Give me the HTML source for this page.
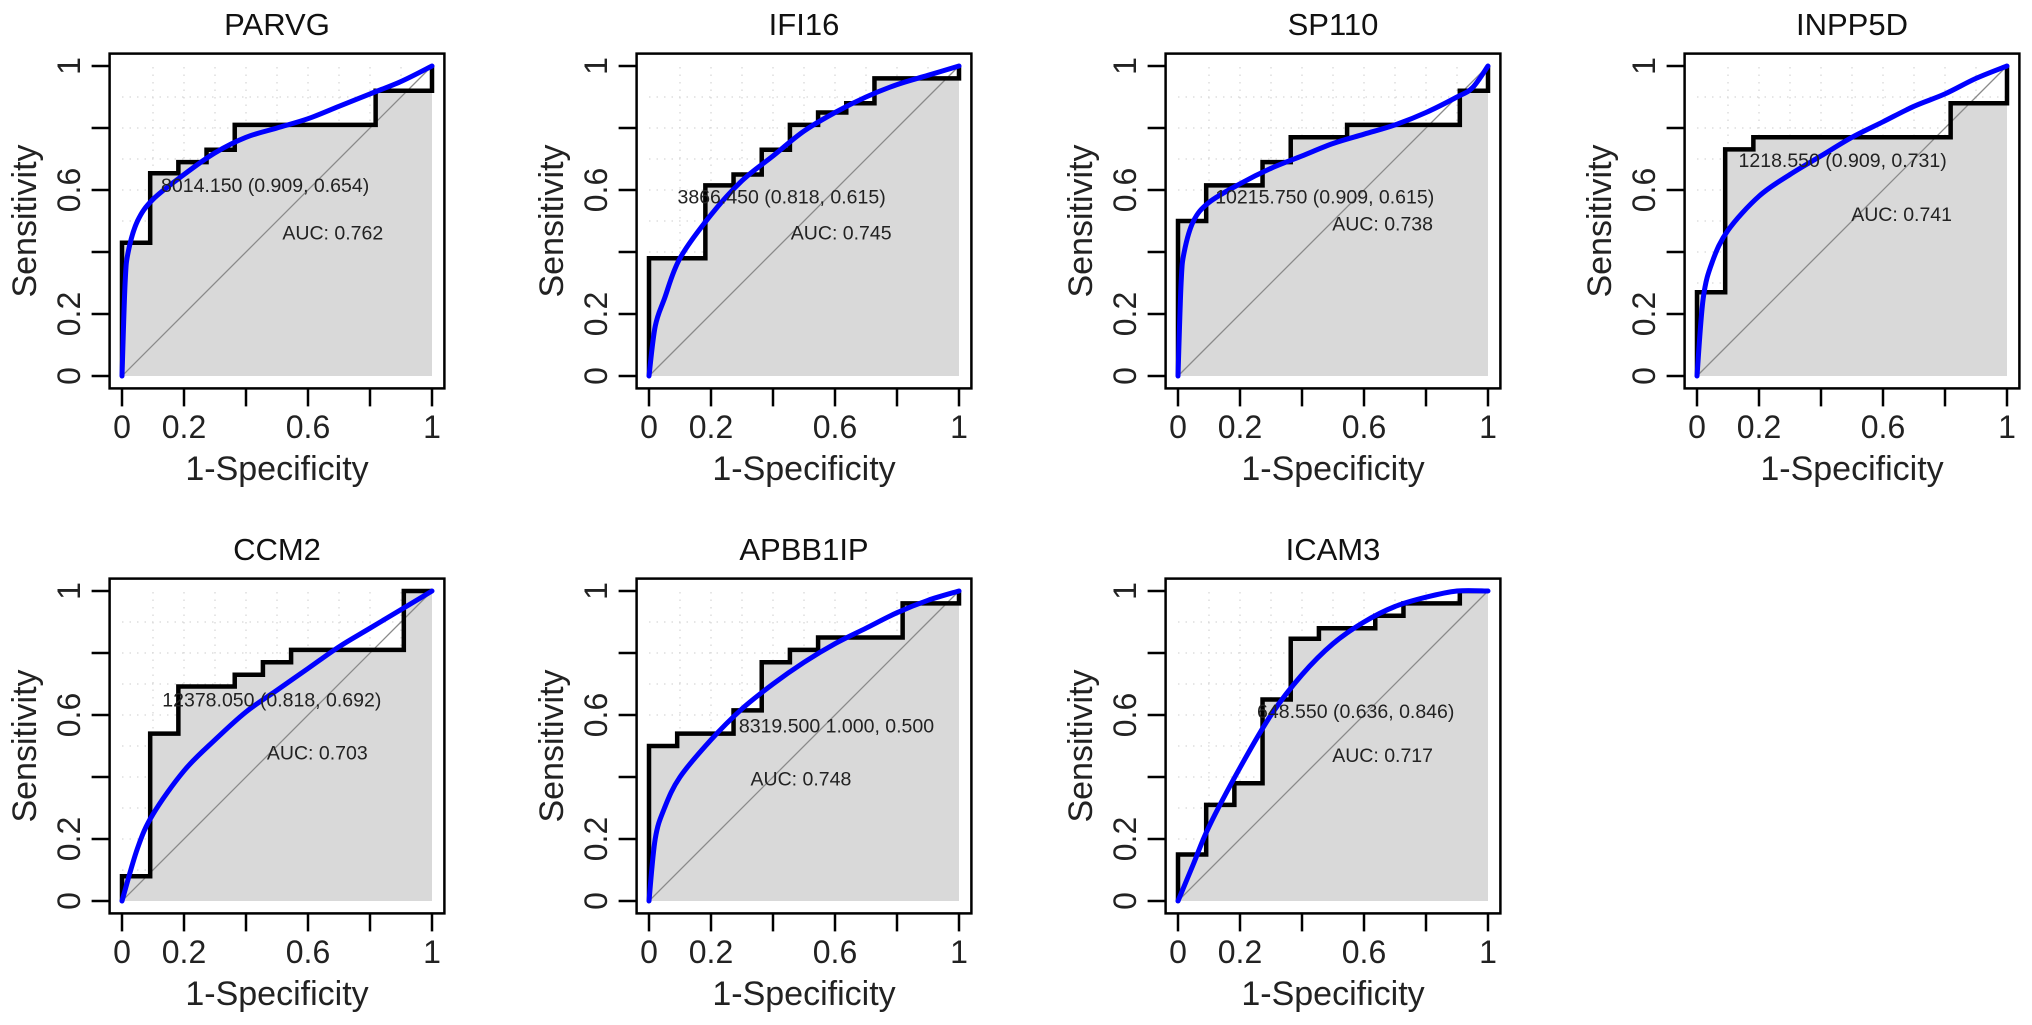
<!DOCTYPE html>
<html><head><meta charset="utf-8"><style>
html,body{margin:0;padding:0;background:#fff;}
svg{display:block;font-family:"Liberation Sans",Arial,sans-serif;}
</style></head><body>
<svg id="chart" width="2032" height="1025" viewBox="0 0 2032 1025" xmlns="http://www.w3.org/2000/svg"></svg>
<script>
// ---- data ----
const genes = ["PARVG","IFI16","SP110","INPP5D","CCM2","APBB1IP","ICAM3"];
const stepFpr = [
  [0,1/11,2/11,3/11,4/11,9/11,1],
  [0,2/11,3/11,4/11,5/11,6/11,7/11,8/11,1],
  [0,1/11,3/11,4/11,6/11,10/11,1],
  [0,1/11,2/11,9/11,1],
  [0,1/11,2/11,4/11,5/11,6/11,10/11],
  [0,1/11,3/11,4/11,5/11,6/11,9/11,1],
  [0,1/11,2/11,3/11,4/11,5/11,7/11,8/11,10/11]
];
const stepTpr = [
  [0.43,0.654,0.69,0.73,0.81,0.92,1],
  [0.38,0.615,0.65,0.73,0.81,0.85,0.88,0.96,1],
  [0.5,0.615,0.69,0.77,0.81,0.92,1],
  [0.27,0.731,0.77,0.88,1],
  [0.08,0.54,0.692,0.73,0.77,0.81,1],
  [0.5,0.54,0.615,0.77,0.81,0.85,0.96,1],
  [0.15,0.31,0.38,0.65,0.846,0.88,0.92,0.96,1]
];
const smoothFpr = [
  [0,0.01,0.02,0.05,0.1,0.2,0.3,0.4,0.5,0.6,0.7,0.8,0.9,1],
  [0,0.02,0.05,0.1,0.2,0.3,0.4,0.5,0.6,0.7,0.8,0.9,1],
  [0,0.01,0.02,0.05,0.1,0.2,0.3,0.4,0.5,0.6,0.7,0.8,0.9,0.95,1],
  [0,0.02,0.05,0.1,0.2,0.3,0.4,0.5,0.6,0.7,0.8,0.9,1],
  [0,0.05,0.1,0.2,0.3,0.4,0.5,0.6,0.7,0.8,0.9,1],
  [0,0.02,0.05,0.1,0.2,0.3,0.4,0.5,0.6,0.7,0.8,0.9,1],
  [0,0.05,0.1,0.2,0.3,0.4,0.5,0.6,0.7,0.8,0.9,1]
];
const smoothTpr = [
  [0,0.3,0.4,0.5,0.57,0.65,0.72,0.77,0.8,0.83,0.87,0.91,0.95,1],
  [0,0.16,0.25,0.38,0.52,0.63,0.71,0.79,0.85,0.9,0.94,0.97,1],
  [0,0.3,0.4,0.5,0.56,0.62,0.67,0.71,0.75,0.78,0.81,0.85,0.9,0.93,1],
  [0,0.25,0.37,0.47,0.58,0.65,0.71,0.77,0.82,0.87,0.91,0.96,1],
  [0,0.17,0.28,0.42,0.52,0.61,0.68,0.75,0.82,0.88,0.94,1],
  [0,0.2,0.3,0.4,0.52,0.62,0.7,0.77,0.83,0.88,0.93,0.97,1],
  [0,0.12,0.24,0.43,0.6,0.73,0.83,0.9,0.95,0.98,1,1]
];
const thrLabels = ["8014.150 (0.909, 0.654)","3866.450 (0.818, 0.615)","10215.750 (0.909, 0.615)","1218.550 (0.909, 0.731)","12378.050 (0.818, 0.692)","8319.500 1.000, 0.500","648.550 (0.636, 0.846)"];
const thrLabelX = [0.126,0.092,0.12,0.134,0.13,0.29,0.255];
const thrLabelY = [0.594,0.556,0.556,0.674,0.628,0.544,0.59];
const aucLabels = ["AUC: 0.762","AUC: 0.745","AUC: 0.738","AUC: 0.741","AUC: 0.703","AUC: 0.748","AUC: 0.717"];
const aucX = [0.68,0.62,0.66,0.66,0.63,0.49,0.66];
const aucY = [0.44,0.44,0.47,0.50,0.456,0.372,0.448];
const tickVals = [0,0.2,0.4,0.6,0.8,1];
const tickLabels = ["0","0.2","","0.6","","1"];

// ---- layout ----
const originX = [122,649,1178,1697,122,649,1178];
const originY = [376,376,376,376,901,901,901];
const S = 310, PAD = 12.4;
const NS = "http://www.w3.org/2000/svg";
const svg = document.getElementById('chart');
function mk(tag, attrs, parent){
  const e = document.createElementNS(NS, tag);
  for (const k in attrs) e.setAttribute(k, attrs[k]);
  (parent||svg).appendChild(e); return e;
}
function smoothPath(pts){
  let d = `M${pts[0][0]},${pts[0][1]}`;
  for (let i=0;i<pts.length-1;i++){
    const p0=pts[Math.max(0,i-1)], p1=pts[i], p2=pts[i+1], p3=pts[Math.min(pts.length-1,i+2)];
    const c1=[p1[0]+(p2[0]-p0[0])/6, p1[1]+(p2[1]-p0[1])/6];
    const c2=[p2[0]-(p3[0]-p1[0])/6, p2[1]-(p3[1]-p1[1])/6];
    d += ` C${c1[0]},${c1[1]} ${c2[0]},${c2[1]} ${p2[0]},${p2[1]}`;
  }
  return d;
}

genes.forEach((g, i) => {
  const x0 = originX[i], y0 = originY[i];
  const sx = v => x0 + v*S, sy = v => y0 - v*S;
  const grp = mk('g', {});
  
  

  // grid
  for (let k=1;k<10;k++){
    const v=k/10;
    const gv = mk('line',{x1:sx(v),x2:sx(v),y1:sy(0),y2:sy(1),stroke:'#d8d8d8','stroke-width':1.3,'stroke-dasharray':'1.5 6'},grp);
    
    
    const gh = mk('line',{x1:sx(0),x2:sx(1),y1:sy(v),y2:sy(v),stroke:'#d8d8d8','stroke-width':1.3,'stroke-dasharray':'1.5 6'},grp);
    
    
  }

  // step path
  const fx = stepFpr[i], fy = stepTpr[i];
  let d = `M${sx(0)},${sy(0)}`; let cy = 0;
  for (let k=0;k<fx.length;k++){ d += ` L${sx(fx[k])},${sy(cy)} L${sx(fx[k])},${sy(fy[k])}`; cy = fy[k]; }
  if (fx[fx.length-1] < 1) d += ` L${sx(1)},${sy(cy)}`;
  const fill = mk('path',{d: d + ` L${sx(1)},${sy(0)} Z`, fill:'#d9d9d9', stroke:'none'},grp);
  
  

  const diag = mk('line',{x1:sx(0),y1:sy(0),x2:sx(1),y2:sy(1),stroke:'#8a8a8a','stroke-width':1.3},grp);
  
  

  const step = mk('path',{d:d, fill:'none', stroke:'#000','stroke-width':4.5,'stroke-linejoin':'miter'},grp);
  
  

  const pts = smoothFpr[i].map((v,k)=>[sx(v), sy(smoothTpr[i][k])]);
  const sm = mk('path',{d:smoothPath(pts), fill:'none', stroke:'#0000ff','stroke-width':5,'stroke-linecap':'round'},grp);
  
  

  // box
  const box = mk('rect',{x:x0-PAD,y:y0-S-PAD,width:S+2*PAD,height:S+2*PAD,fill:'none',stroke:'#000','stroke-width':2.5},grp);
  
  

  // ticks
  tickVals.forEach((v,k)=>{
    const tx = mk('line',{x1:sx(v),x2:sx(v),y1:y0+PAD,y2:y0+PAD+18,stroke:'#000','stroke-width':2.5},grp);
    
    
    const ty = mk('line',{x1:x0-PAD,x2:x0-PAD-18,y1:sy(v),y2:sy(v),stroke:'#000','stroke-width':2.5},grp);
    
    
    if (tickLabels[k]){
      const lx = mk('text',{x:sx(v),y:y0+62,'font-size':32,'text-anchor':'middle',fill:'#222'},grp);
      lx.textContent = tickLabels[k];
      
      
      const ly = mk('text',{x:0,y:0,'font-size':32,'text-anchor':'middle',fill:'#222',transform:`translate(${x0-42},${sy(v)}) rotate(-90)`},grp);
      ly.textContent = tickLabels[k];
      
      
    }
  });

  const t = mk('text',{x:x0+155,y:y0-341,'font-size':31,'text-anchor':'middle',fill:'#111'},grp);
  t.textContent = g;
  
  

  const xt = mk('text',{x:x0+155,y:y0+104,'font-size':34,'text-anchor':'middle',fill:'#222'},grp);
  xt.textContent = '1-Specificity';
  
  

  const yt = mk('text',{x:0,y:0,'font-size':34,'text-anchor':'middle',fill:'#222',transform:`translate(${x0-86},${y0-155}) rotate(-90)`},grp);
  yt.textContent = 'Sensitivity';
  
  

  const th = mk('text',{x:sx(thrLabelX[i]),y:sy(thrLabelY[i]),'font-size':19.5,fill:'#222'},grp);
  th.textContent = thrLabels[i];
  
  

  const au = mk('text',{x:sx(aucX[i]),y:sy(aucY[i]),'font-size':19.5,'text-anchor':'middle',fill:'#222'},grp);
  au.textContent = aucLabels[i];
  
  
});
</script>
</body></html>
